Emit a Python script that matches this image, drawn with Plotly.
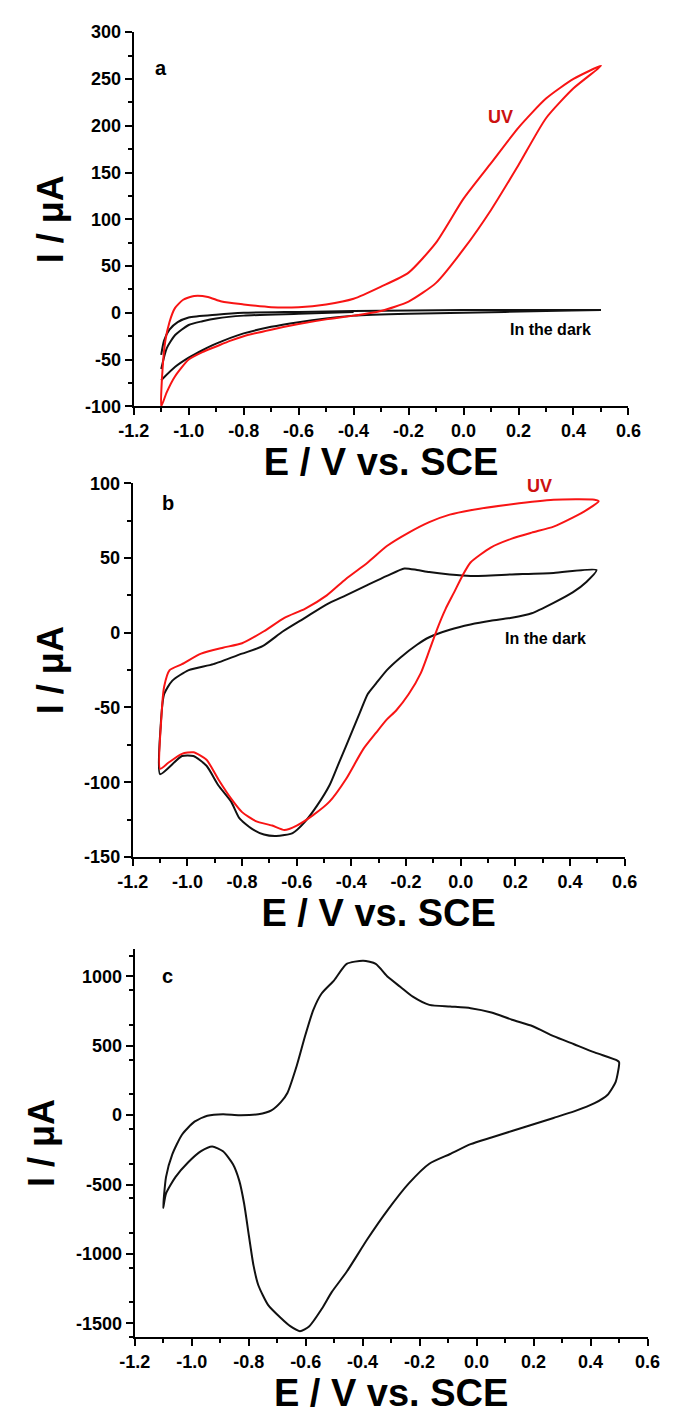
import plotly.graph_objects as go

# ---------------- Panel a data ----------------
a_uv_fwd_E = [-1.1, -1.08, -1.05, -1.0, -0.95, -0.9, -0.85, -0.8, -0.7, -0.6, -0.5, -0.4, -0.3, -0.2, -0.1, 0.0, 0.1, 0.2, 0.3, 0.4, 0.5]
a_uv_fwd_I = [-100, -85, -68, -50, -42, -36, -30, -25, -18, -12, -7, -3, 2, 12, 32, 68, 110, 158, 208, 240, 264]
a_uv_rev_E = [0.5, 0.4, 0.3, 0.2, 0.1, 0.0, -0.1, -0.2, -0.3, -0.4, -0.5, -0.6, -0.7, -0.8, -0.88, -0.93, -0.98, -1.02, -1.05, -1.07, -1.085, -1.095, -1.1]
a_uv_rev_I = [264, 250, 229, 198, 160, 122, 75, 43, 28, 15, 9, 6, 6, 9, 12, 17, 18, 14, 5, -10, -30, -60, -100]

a_dk1_E = [-1.1, -1.09, -1.07, -1.04, -1.0, -0.9, -0.8, -0.6, -0.4, 0.0, 0.5, 0.3, 0.0, -0.2, -0.4, -0.5, -0.6, -0.7, -0.8, -0.9, -0.95, -1.0, -1.05, -1.1]
a_dk1_I = [-45, -30, -18, -10, -5, -2, 0, 1, 2, 3, 3, 2, 0, -1, -3, -6, -10, -15, -22, -33, -40, -48, -58, -72]
a_dk2_E = [-1.1, -1.08, -1.05, -1.0, -0.95, -0.9, -0.8, -0.6, -0.4]
a_dk2_I = [-60, -38, -24, -13, -9, -6, -3, -1, 1]

# ---------------- Panel b data ----------------
b_uv_fwd_E = [-1.1, -1.095, -1.085, -1.065, -1.02, -0.95, -0.87, -0.8, -0.72, -0.645, -0.57, -0.49, -0.42, -0.34, -0.27, -0.19, -0.115, -0.04, 0.036, 0.187, 0.34, 0.49, 0.505]
b_uv_fwd_I = [-91, -56, -36, -25, -21, -14, -10, -7, 1, 10, 16, 25, 36, 47, 58, 67, 74, 79, 82, 86, 89, 89, 88]
b_uv_rev_E = [0.505, 0.46, 0.41, 0.34, 0.26, 0.187, 0.11, 0.036, 0.006, -0.024, -0.055, -0.085, -0.115, -0.146, -0.19, -0.236, -0.27, -0.31, -0.357, -0.42, -0.48, -0.54, -0.6, -0.645, -0.69, -0.75, -0.8, -0.84, -0.887, -0.93, -0.978, -1.02, -1.07, -1.1]
b_uv_rev_I = [88, 82, 77, 71, 67, 63, 57, 47, 38, 27, 16, 3, -12, -27, -41, -52, -58, -67, -78, -98, -113, -122, -129, -132, -129, -126, -120, -111, -98, -85, -80, -81, -87, -91]

b_dk_fwd_E = [-1.1, -1.098, -1.085, -1.055, -0.995, -0.905, -0.8, -0.725, -0.65, -0.57, -0.49, -0.42, -0.34, -0.27, -0.206, -0.16, -0.115, -0.04, 0.036, 0.187, 0.34, 0.497]
b_dk_fwd_I = [-94.6, -63, -41, -32, -25, -21, -14, -9, 1, 10, 19, 25, 32, 38, 43, 42, 40.6, 39, 38, 39, 40, 42]
b_dk_rev_E = [0.497, 0.46, 0.41, 0.34, 0.26, 0.187, 0.11, 0.036, -0.04, -0.115, -0.16, -0.22, -0.27, -0.31, -0.34, -0.37, -0.42, -0.45, -0.48, -0.525, -0.57, -0.615, -0.675, -0.72, -0.765, -0.81, -0.84, -0.887, -0.93, -0.978, -1.02, -1.1]
b_dk_rev_I = [42, 34, 27, 20, 13, 10, 8, 5.5, 2, -3, -8, -16.5, -25, -34, -41, -54, -76, -89, -102, -115.5, -126.5, -134, -136, -135, -131, -124, -113, -102, -89, -82.5, -82.5, -94.6]

# ---------------- Panel c data ----------------
c_fwd_E = [-1.1, -1.09, -1.068, -1.034, -0.99, -0.945, -0.89, -0.833, -0.766, -0.72, -0.687, -0.664, -0.631, -0.602, -0.573, -0.544, -0.5, -0.456, -0.398, -0.354, -0.311, -0.267, -0.224, -0.166, -0.093, -0.021, 0.052, 0.124, 0.197, 0.27, 0.342, 0.414, 0.494, 0.5]
c_fwd_I = [-669, -447, -283, -141, -47, -5, 7, 0, 7, 35, 94, 160, 358, 570, 759, 877, 972, 1090, 1113, 1090, 995, 924, 854, 795, 783, 771, 740, 688, 641, 570, 511, 452, 393, 381]
c_rev_E = [0.5, 0.488, 0.459, 0.414, 0.342, 0.27, 0.197, 0.124, 0.052, -0.021, -0.093, -0.166, -0.238, -0.311, -0.383, -0.456, -0.508, -0.542, -0.587, -0.62, -0.654, -0.687, -0.732, -0.766, -0.783, -0.799, -0.816, -0.833, -0.855, -0.89, -0.928, -0.967, -1.012, -1.057, -1.09, -1.1]
c_rev_I = [381, 240, 145, 86, 27, -20, -67, -114, -161, -209, -280, -350, -492, -681, -893, -1129, -1274, -1392, -1521, -1557, -1521, -1462, -1367, -1226, -1083, -871, -637, -472, -354, -260, -226, -260, -340, -447, -566, -669]

# ---------------- Tick labels ----------------
x_ticks = [-1.2, -1.0, -0.8, -0.6, -0.4, -0.2, 0.0, 0.2, 0.4, 0.6]
x_ticktext = ["-1.2", "-1.0", "-0.8", "-0.6", "-0.4", "-0.2", "0.0", "0.2", "0.4", "0.6"]
ya_ticks = [-100, -50, 0, 50, 100, 150, 200, 250, 300]
ya_ticktext = ["-100", "-50", "0", "50", "100", "150", "200", "250", "300"]
yb_ticks = [-150, -100, -50, 0, 50, 100]
yb_ticktext = ["-150", "-100", "-50", "0", "50", "100"]
yc_ticks = [-1500, -1000, -500, 0, 500, 1000]
yc_ticktext = ["-1500", "-1000", "-500", "0", "500", "1000"]

RED = "#f81414"
LABEL_RED = "#cc1111"
BLACK = "#111111"
FONT = "Liberation Sans, Arial, sans-serif"

fig = go.Figure()

def line(x, y, color, xa, ya):
    fig.add_trace(go.Scatter(x=x, y=y, mode="lines", xaxis=xa, yaxis=ya,
                             line=dict(color=color, width=2, shape="spline", smoothing=0.6),
                             showlegend=False, hoverinfo="skip"))

# panel a
line(a_dk1_E, a_dk1_I, BLACK, "x", "y")
line(a_dk2_E, a_dk2_I, BLACK, "x", "y")
line(a_uv_fwd_E + a_uv_rev_E[1:], a_uv_fwd_I + a_uv_rev_I[1:], RED, "x", "y")
# panel b
line(b_dk_fwd_E + b_dk_rev_E[1:], b_dk_fwd_I + b_dk_rev_I[1:], BLACK, "x2", "y2")
line(b_uv_fwd_E + b_uv_rev_E[1:], b_uv_fwd_I + b_uv_rev_I[1:], RED, "x2", "y2")
# panel c
line(c_fwd_E + c_rev_E[1:], c_fwd_I + c_rev_I[1:], BLACK, "x3", "y3")

W, H = 674, 1427

def bold(lst):
    return ["<b>%s</b>" % t for t in lst]

def xaxis(dom, anchor):
    return dict(domain=dom, anchor=anchor, range=[-1.2, 0.6], tickmode="array",
                tickvals=x_ticks, ticktext=bold(x_ticktext), ticks="outside", ticklen=7, tickwidth=2,
                tickcolor="black", showline=True, linecolor="black", linewidth=2,
                showgrid=False, zeroline=False,
                tickfont=dict(family=FONT, size=18, color="black"),
                minor=dict(tickmode="linear", tick0=-1.2, dtick=0.1, ticks="outside",
                           ticklen=4, tickwidth=2, tickcolor="black", showgrid=False),
                title=dict(text="<b>E / V vs. SCE</b>", standoff=6,
                           font=dict(family=FONT, size=38, color="black")))

def yaxis(dom, anchor, rng, tv, tt, mdt):
    return dict(domain=dom, anchor=anchor, range=rng, tickmode="array",
                tickvals=tv, ticktext=bold(tt), ticks="outside", ticklen=7, tickwidth=2,
                tickcolor="black", showline=True, linecolor="black", linewidth=2,
                showgrid=False, zeroline=False,
                tickfont=dict(family=FONT, size=18, color="black"),
                minor=dict(tickmode="linear", tick0=rng[0], dtick=mdt, ticks="outside",
                           ticklen=4, tickwidth=2, tickcolor="black", showgrid=False),
                title=dict(text="<b>I / μA</b>", standoff=10,
                           font=dict(family=FONT, size=36, color="black")))

fig.update_layout(
    width=W, height=H, margin=dict(l=0, r=0, t=0, b=0),
    paper_bgcolor="white", plot_bgcolor="white",
    xaxis=xaxis([123 / W, 640 / W], "y"),
    yaxis=yaxis([1 - 402 / H, 1 - 22.5 / H], "x", [-100, 300], ya_ticks, ya_ticktext, 25),
    xaxis2=xaxis([122 / W, 636 / W], "y2"),
    yaxis2=yaxis([1 - 859 / H, 1 - 480 / H], "x2", [-150, 100], yb_ticks, yb_ticktext, 25),
    xaxis3=xaxis([124 / W, 660 / W], "y3"),
    yaxis3=yaxis([1 - 1346 / H, 1 - 952 / H], "x3", [-1600, 1200], yc_ticks, yc_ticktext, 250),
)

def note(text, x, y, xa, ya, color="black", size=17):
    fig.add_annotation(text="<b>%s</b>" % text, x=x, y=y, xref=xa, yref=ya, showarrow=False,
                       font=dict(family=FONT, size=size, color=color))

note("a", -1.1, 262, "x", "y", size=20)
note("UV", 0.135, 209, "x", "y", color=LABEL_RED, size=18)
note("In the dark", 0.317, -18, "x", "y", size=16)
note("b", -1.07, 87, "x2", "y2", size=20)
note("UV", 0.288, 98, "x2", "y2", color=LABEL_RED, size=18)
note("In the dark", 0.309, -4, "x2", "y2", size=16)
note("c", -1.086, 1000, "x3", "y3", size=20)

fig.write_html("out.html")
